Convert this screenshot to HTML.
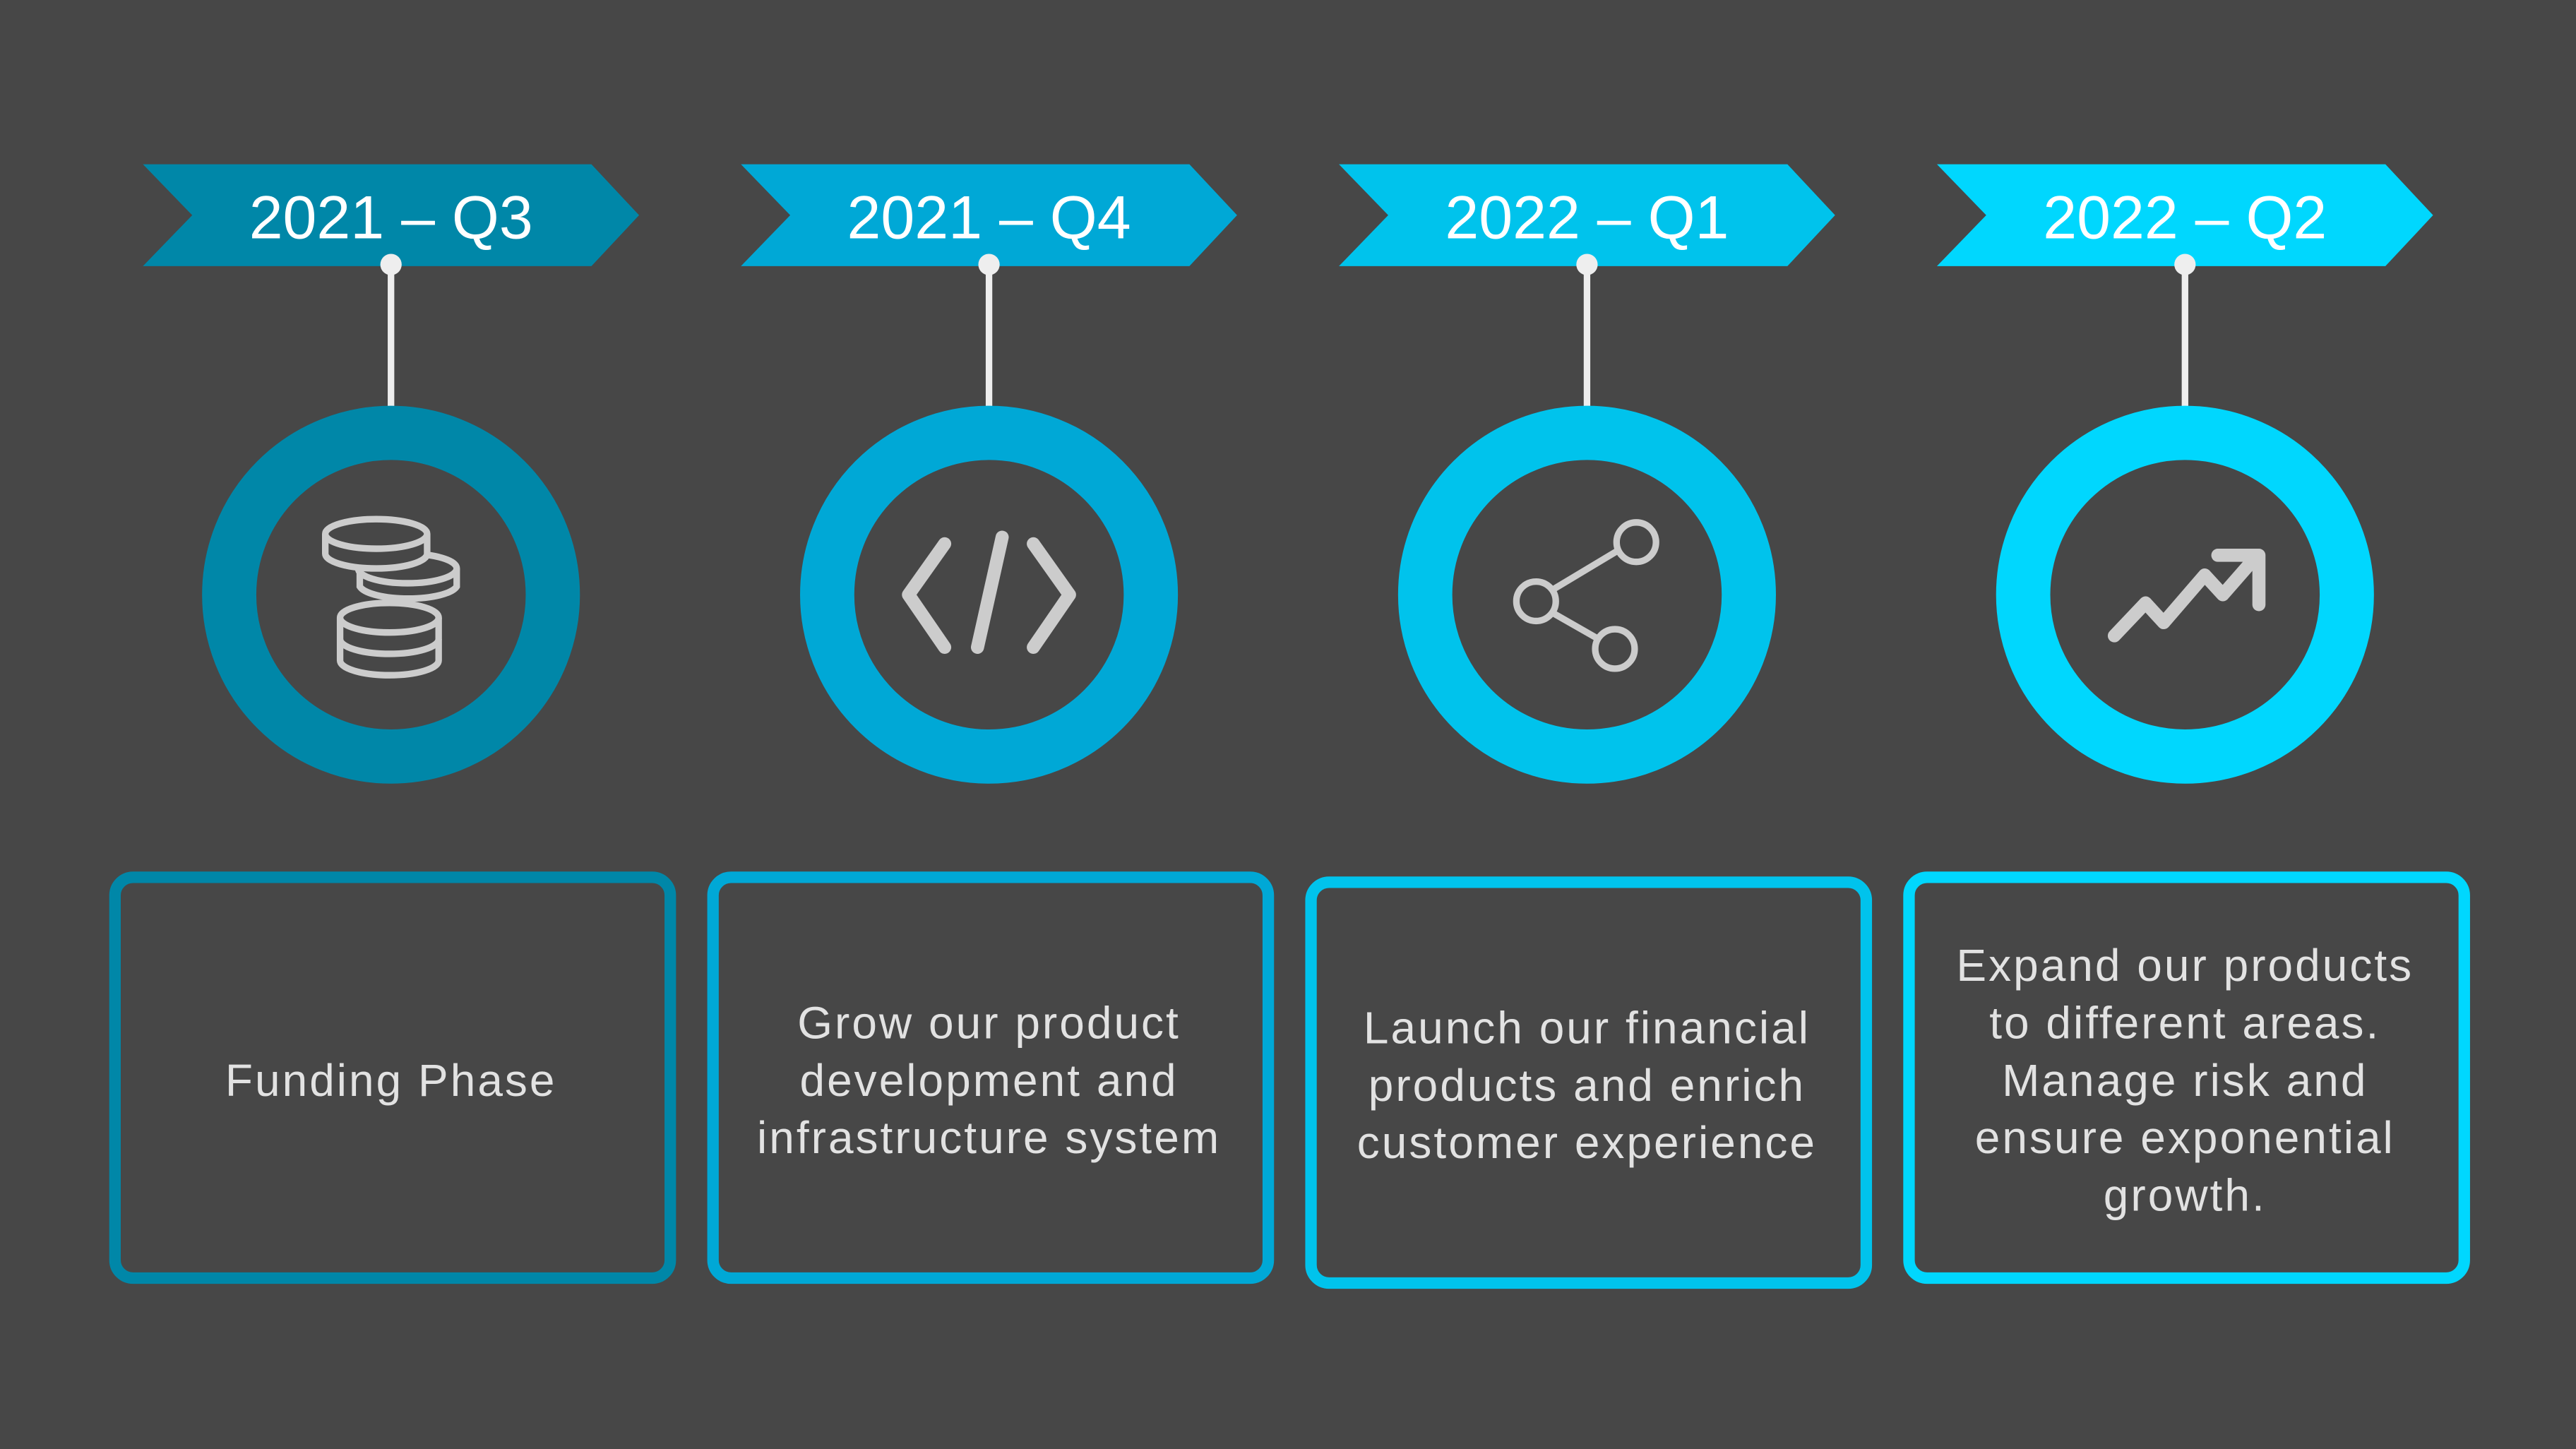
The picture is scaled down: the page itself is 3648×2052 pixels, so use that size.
<!DOCTYPE html>
<html><head><meta charset="utf-8"><style>
html,body{margin:0;padding:0;background:#474747;}
svg{display:block;}
text{font-family:"Liberation Sans",sans-serif;}
</style></head><body>
<svg width="3648" height="2052" viewBox="0 0 1568 882" preserveAspectRatio="none" xmlns="http://www.w3.org/2000/svg">
<rect width="1568" height="882" fill="#474747"/>
<g id="banners">
<polygon points="87,100 360,100 389,131 360,162 87,162 117,131" fill="#0087a8"/>
<polygon points="451,100 724,100 753,131 724,162 451,162 481,131" fill="#00a8d6"/>
<polygon points="815,100 1088,100 1117,131 1088,162 815,162 845,131" fill="#00c3ec"/>
<polygon points="1179,100 1452,100 1481,131 1452,162 1179,162 1209,131" fill="#00d7fe"/>
</g>
<g fill="#ffffff" font-size="37" text-anchor="middle" font-weight="300">
<text x="238" y="145">2021 – Q3</text>
<text x="602" y="145">2021 – Q4</text>
<text x="966" y="145">2022 – Q1</text>
<text x="1330" y="145">2022 – Q2</text>
</g>
<g stroke="#eeeeee" stroke-width="4">
<line x1="238" y1="161" x2="238" y2="250"/>
<line x1="602" y1="161" x2="602" y2="250"/>
<line x1="966" y1="161" x2="966" y2="250"/>
<line x1="1330" y1="161" x2="1330" y2="250"/>
</g>
<g fill="#eeeeee">
<circle cx="238" cy="161" r="6.5"/><circle cx="602" cy="161" r="6.5"/><circle cx="966" cy="161" r="6.5"/><circle cx="1330" cy="161" r="6.5"/>
</g>
<g fill="#474747" stroke-width="33">
<circle cx="238" cy="362" r="98.5" stroke="#0087a8"/>
<circle cx="602" cy="362" r="98.5" stroke="#00a8d6"/>
<circle cx="966" cy="362" r="98.5" stroke="#00c3ec"/>
<circle cx="1330" cy="362" r="98.5" stroke="#00d7fe"/>
</g>
<!-- coins -->
<g fill="#474747" stroke="#cccccc" stroke-width="4">
<path d="M207,376 v26 a30,9 0 0 0 60,0 v-26"/>
<ellipse cx="237" cy="376" rx="30" ry="9"/>
<path d="M207,389 a30,9 0 0 0 60,0" fill="none"/>
<path d="M219,346 v11 a30,9 0 0 0 59,0 v-11"/>
<ellipse cx="248" cy="346" rx="30" ry="9"/>
<path d="M198,325 v12 a31,9 0 0 0 62,0 v-12"/>
<ellipse cx="229" cy="325" rx="31" ry="9"/>
</g>
<!-- code -->
<g stroke="#cccccc" stroke-width="8" stroke-linecap="round" stroke-linejoin="round" fill="none">
<polyline points="575,331 553,362 575,394"/>
<polyline points="629,331 651,362 629,394"/>
<line x1="610" y1="327" x2="595" y2="394"/>
</g>
<!-- share -->
<g stroke="#cccccc" stroke-width="4" fill="none">
<line x1="945" y1="359" x2="985" y2="335"/>
<line x1="945" y1="373" x2="973" y2="389"/>
<circle cx="996" cy="330" r="12"/>
<circle cx="935" cy="366" r="12"/>
<circle cx="983" cy="395" r="12"/>
</g>
<!-- trend -->
<g stroke="#cccccc" stroke-width="8" stroke-linecap="round" stroke-linejoin="round" fill="none">
<polyline points="1287,387 1306,367 1317,379 1342,350 1353,362 1374,338"/>
<polyline points="1350,338 1375,338 1375,368"/>
</g>
<!-- boxes -->
<g fill="none" stroke-width="7">
<rect x="70" y="534" width="338" height="244" rx="11" stroke="#0087a8"/>
<rect x="434" y="534" width="338" height="244" rx="11" stroke="#00a8d6"/>
<rect x="798" y="537" width="338" height="244" rx="11" stroke="#00c3ec"/>
<rect x="1162" y="534" width="338" height="244" rx="11" stroke="#00d7fe"/>
</g>
<g fill="#e2e2e2" font-size="27.5" text-anchor="middle" font-weight="300" letter-spacing="1.3">
<text x="238" y="667">Funding Phase</text>
<text x="602" y="632">Grow our product</text>
<text x="602" y="667">development and</text>
<text x="602" y="702">infrastructure system</text>
<text x="966" y="635">Launch our financial</text>
<text x="966" y="670">products and enrich</text>
<text x="966" y="705">customer experience</text>
<text x="1330" y="597">Expand our products</text>
<text x="1330" y="632">to different areas.</text>
<text x="1330" y="667">Manage risk and</text>
<text x="1330" y="702">ensure exponential</text>
<text x="1330" y="737">growth.</text>
</g>
</svg>
</body></html>
